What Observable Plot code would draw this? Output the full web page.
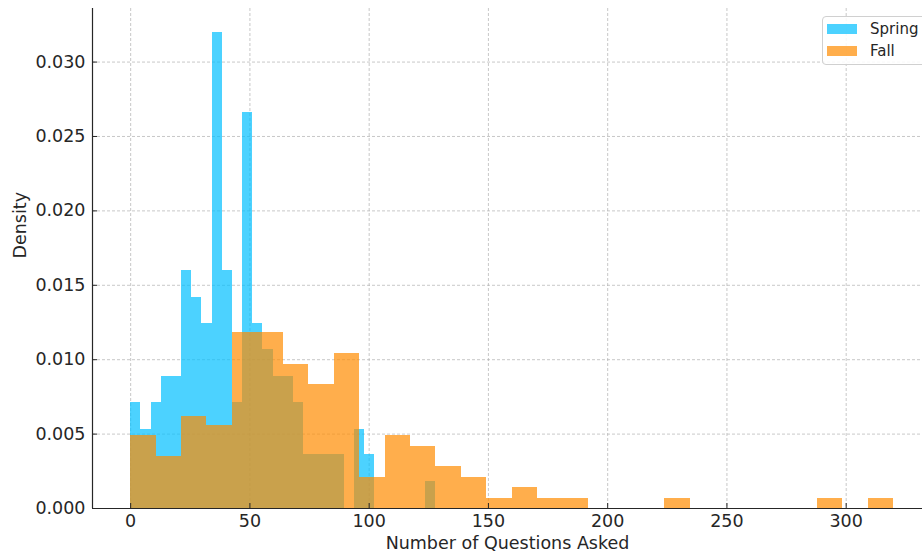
<!DOCTYPE html>
<html>
<head>
<meta charset="utf-8">
<script src="https://cdn.jsdelivr.net/npm/d3@7"></script>
<script src="https://cdn.jsdelivr.net/npm/@observablehq/plot@0.6"></script>
<style>
  body { margin: 0; background: #fff; font-family: "DejaVu Sans", sans-serif; }
  #wrap { position: relative; width: 922px; height: 558px; overflow: hidden; }
  #legend { position: absolute; left: 822px; top: 16px; width: 120px; height: 49px;
    border: 1px solid #d0d0d0; border-radius: 4px; background: rgba(255,255,255,0.85);
    font-size: 15px; color: #262626; box-sizing: border-box; }
  .item { position: absolute; left: 4px; height: 12px; display: flex; align-items: center; white-space: nowrap; }
  .sw { width: 30px; height: 10px; display: inline-block; margin-right: 13px; }
</style>
</head>
<body>
<div id="wrap"></div>
<script>
// Histogram densities (30 equal bins per season)
const springRange = [0, 128];
const springDensity = [0.0071, 0.0053, 0.0071, 0.0089, 0.0089, 0.0160, 0.0142, 0.0124, 0.0320, 0.0160,
  0.0071, 0.0266, 0.0124, 0.0107, 0.0089, 0.0089, 0.0071, 0.0036, 0.0036, 0.0036,
  0.0036, 0, 0.0053, 0.0036, 0, 0, 0, 0, 0, 0.0018];
const fallRange = [0, 320];
const fallDensity = [0.0049, 0.0035, 0.0062, 0.0056, 0.0118, 0.0118, 0.0097, 0.0083, 0.0104, 0.0021,
  0.0049, 0.0042, 0.0028, 0.0021, 0.0007, 0.0014, 0.0007, 0.0007, 0, 0,
  0, 0.0007, 0, 0, 0, 0, 0, 0.0007, 0, 0.0007];
const seriesNames = ["Spring", "Fall"];
const seriesColors = ["#00BFFF", "#FF8C00"];
const xTicks = [0, 50, 100, 150, 200, 250, 300];
const yTicks = [0, 0.005, 0.010, 0.015, 0.020, 0.025, 0.030];
const xLabel = "Number of Questions Asked";
const yLabel = "Density";

function bins(range, dens) {
  const w = (range[1] - range[0]) / dens.length;
  return dens.map((d, i) => ({x1: range[0] + i * w, x2: range[0] + (i + 1) * w, y: d}));
}
const spring = bins(springRange, springDensity);
const fall = bins(fallRange, fallDensity);

const chart = Plot.plot({
  width: 922,
  height: 558,
  marginLeft: 92,
  marginRight: 0,
  marginTop: 8,
  marginBottom: 50,
  style: {fontFamily: "DejaVu Sans, sans-serif", fontSize: "17px", color: "#262626", background: "#fff"},
  x: {domain: [-16, 332]},
  y: {domain: [0, 0.0336]},
  marks: [
    Plot.gridX(xTicks, {stroke: "#b0b0b0", strokeOpacity: 0.7, strokeDasharray: "3,2"}),
    Plot.gridY(yTicks, {stroke: "#b0b0b0", strokeOpacity: 0.7, strokeDasharray: "3,2"}),
    Plot.rectY(spring, {x1: "x1", x2: "x2", y: "y", fill: seriesColors[0], fillOpacity: 0.7, shapeRendering: "crispEdges"}),
    Plot.rectY(fall, {x1: "x1", x2: "x2", y: "y", fill: seriesColors[1], fillOpacity: 0.7, shapeRendering: "crispEdges"}),
    Plot.axisX(xTicks, {tickSize: -5, tickPadding: 11, label: null, fontSize: 17.5, stroke: "#262626"}),
    Plot.axisY(yTicks, {tickSize: -5, tickPadding: 12, label: null, tickFormat: d3.format(".3f"), fontSize: 17.5, stroke: "#262626"}),
    Plot.ruleY([0], {stroke: "#262626", strokeWidth: 1.2}),
    Plot.ruleX([-16], {stroke: "#262626", strokeWidth: 1.2}),
    Plot.text([xLabel], {frameAnchor: "bottom", dy: 40, fontSize: 17.5, fill: "#262626"}),
    Plot.text([yLabel], {frameAnchor: "left", dx: -72, rotate: -90, fontSize: 17.5, fill: "#262626"})
  ]
});
const wrap = document.getElementById("wrap");
wrap.appendChild(chart);

const legend = document.createElement("div");
legend.id = "legend";
seriesNames.forEach((n, i) => {
  const it = document.createElement("div");
  it.className = "item";
  it.style.top = (i === 0 ? 6 : 28) + "px";
  const sw = document.createElement("span");
  sw.className = "sw";
  sw.style.background = seriesColors[i];
  sw.style.opacity = 0.7;
  it.appendChild(sw);
  it.appendChild(document.createTextNode(n));
  legend.appendChild(it);
});
wrap.appendChild(legend);
</script>
</body>
</html>
